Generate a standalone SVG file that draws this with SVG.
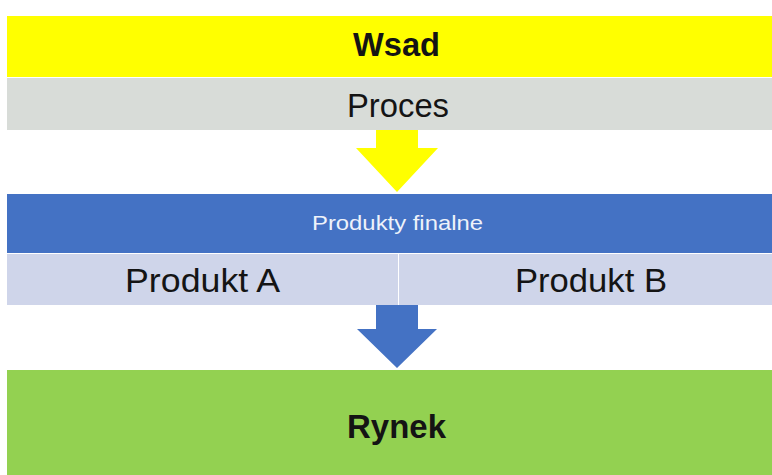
<svg xmlns="http://www.w3.org/2000/svg" width="772" height="475" viewBox="0 0 772 475">
  <style>
    .lbl { font-family: "Liberation Sans", Arial, sans-serif; fill: #141414; text-anchor: middle; }
    .bold { font-weight: bold; }
    .head { fill: #eef2fa; }
  </style>
  <rect x="0" y="0" width="772" height="475" fill="#ffffff"/>

  <g id="wsad">
    <rect x="7" y="16" width="765" height="61" fill="#ffff00"/>
    <text class="lbl bold" x="396.5" y="56" font-size="33" textLength="87" lengthAdjust="spacingAndGlyphs">Wsad</text>
  </g>

  <g id="proces">
    <rect x="7" y="78" width="765" height="52" fill="#d8dcd8"/>
    <text class="lbl" x="398" y="117" font-size="34" textLength="102" lengthAdjust="spacingAndGlyphs">Proces</text>
  </g>

  <g id="produkty-finalne">
    <rect x="7" y="194" width="765" height="59" fill="#4472c4"/>
    <text class="lbl head" x="397.5" y="230" font-size="21" textLength="171" lengthAdjust="spacingAndGlyphs">Produkty finalne</text>
  </g>

  <g id="produkt-a">
    <rect x="7" y="254" width="391" height="51" fill="#cfd5ea"/>
    <text class="lbl" x="202.5" y="292" font-size="33" textLength="155" lengthAdjust="spacingAndGlyphs">Produkt A</text>
  </g>

  <g id="produkt-b">
    <rect x="399" y="254" width="373" height="51" fill="#cfd5ea"/>
    <text class="lbl" x="591" y="292" font-size="33" textLength="152" lengthAdjust="spacingAndGlyphs">Produkt B</text>
  </g>

  <g id="rynek">
    <rect x="7" y="370" width="765" height="105" fill="#93d151"/>
    <text class="lbl bold" x="396.5" y="438" font-size="33" textLength="99" lengthAdjust="spacingAndGlyphs">Rynek</text>
  </g>

  <g id="connectors">
    <polygon points="376,130 418,130 418,148 438,148 397,192 356,148 376,148" fill="#ffff00"/>
    <polygon points="376,305 418,305 418,329 437,329 397,368 357,329 376,329" fill="#4472c4"/>
  </g>
</svg>
